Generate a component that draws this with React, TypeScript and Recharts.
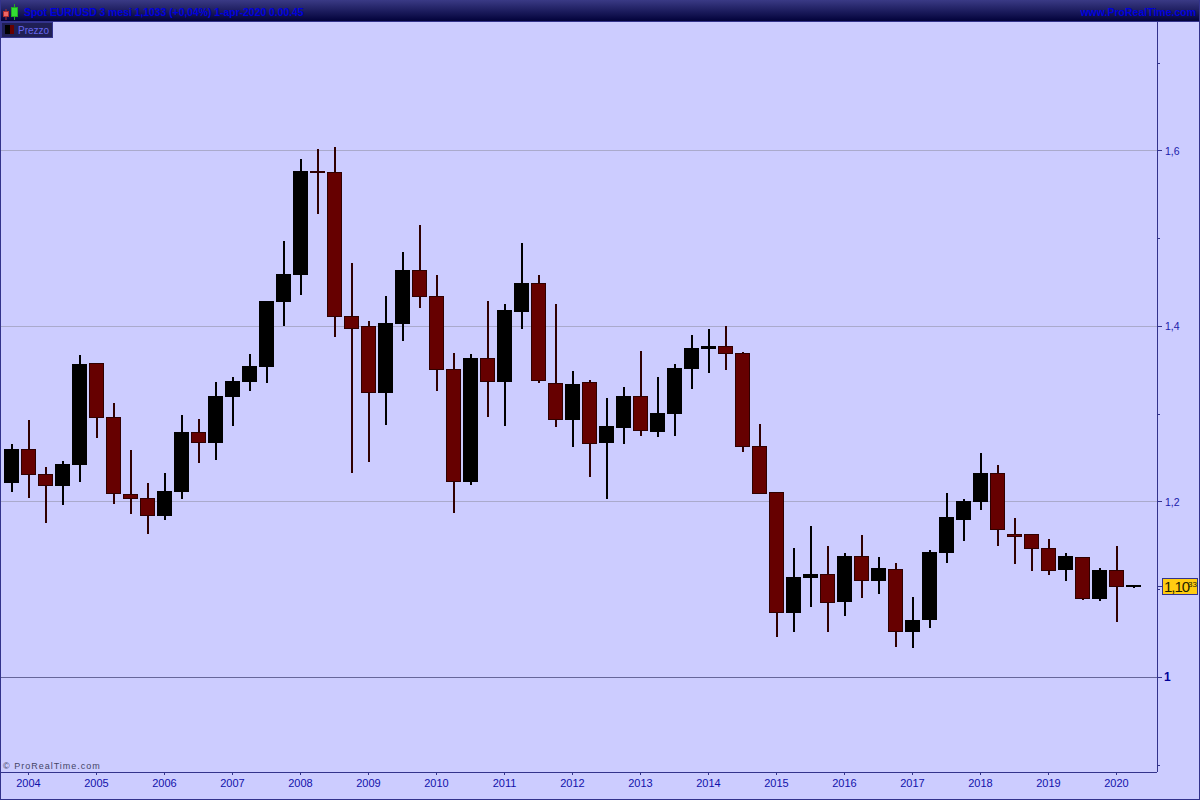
import React from "react";
import { ComposedChart, Bar, XAxis, YAxis, CartesianGrid, ReferenceLine } from "recharts";

const periods = [
  "2003-10",
  "2004-01", "2004-04", "2004-07", "2004-10",
  "2005-01", "2005-04", "2005-07", "2005-10",
  "2006-01", "2006-04", "2006-07", "2006-10",
  "2007-01", "2007-04", "2007-07", "2007-10",
  "2008-01", "2008-04", "2008-07", "2008-10",
  "2009-01", "2009-04", "2009-07", "2009-10",
  "2010-01", "2010-04", "2010-07", "2010-10",
  "2011-01", "2011-04", "2011-07", "2011-10",
  "2012-01", "2012-04", "2012-07", "2012-10",
  "2013-01", "2013-04", "2013-07", "2013-10",
  "2014-01", "2014-04", "2014-07", "2014-10",
  "2015-01", "2015-04", "2015-07", "2015-10",
  "2016-01", "2016-04", "2016-07", "2016-10",
  "2017-01", "2017-04", "2017-07", "2017-10",
  "2018-01", "2018-04", "2018-07", "2018-10",
  "2019-01", "2019-04", "2019-07", "2019-10",
  "2020-01", "2020-04",
];

const opens = [
  1.2214, 1.2602, 1.2313, 1.218, 1.2419, 1.3582, 1.2963, 1.2089, 1.204, 1.1838,
  1.2112, 1.2792, 1.267, 1.3194, 1.3365, 1.3536, 1.4277, 1.4585, 1.577, 1.5755,
  1.4117, 1.4, 1.324, 1.4026, 1.4638, 1.4342, 1.3513, 1.2226, 1.3639, 1.3365,
  1.4163, 1.4493, 1.3354, 1.2932, 1.3362, 1.267, 1.2841, 1.3202, 1.2795, 1.3001,
  1.3513, 1.3741, 1.3772, 1.3692, 1.2632, 1.2108, 1.0733, 1.1132, 1.1174, 1.0858,
  1.1379, 1.1097, 1.1231, 1.0516, 1.0653, 1.1417, 1.1793, 1.1998, 1.2325, 1.1633,
  1.163, 1.147, 1.1223, 1.1368, 1.0892, 1.1219, 1.1033,
];

const closes = [
  1.2602, 1.2305, 1.218, 1.2431, 1.357, 1.2955, 1.2089, 1.2032, 1.1838, 1.2123,
  1.2795, 1.267, 1.3206, 1.3377, 1.3548, 1.4288, 1.4596, 1.577, 1.5747, 1.4106,
  1.3969, 1.324, 1.4038, 1.4642, 1.4334, 1.3502, 1.2226, 1.3639, 1.3365, 1.4186,
  1.4493, 1.3377, 1.2932, 1.3342, 1.2659, 1.2864, 1.3206, 1.2807, 1.3012, 1.3525,
  1.3753, 1.3775, 1.3684, 1.2624, 1.2089, 1.0733, 1.1143, 1.1177, 1.0847, 1.1382,
  1.1097, 1.1246, 1.0516, 1.0653, 1.1428, 1.1827, 1.2009, 1.2328, 1.1679, 1.1599,
  1.1462, 1.1211, 1.1382, 1.0892, 1.1223, 1.1029, 1.1052,
];

const highs = [
  1.2659, 1.2932, 1.2397, 1.2465, 1.3673, 1.3582, 1.3126, 1.259, 1.2214, 1.2328,
  1.2989, 1.2944, 1.3365, 1.3422, 1.3684, 1.4288, 1.4972, 1.5907, 1.6021, 1.6043,
  1.4721, 1.406, 1.4345, 1.4847, 1.5154, 1.4585, 1.3696, 1.3684, 1.4288, 1.4254,
  1.4949, 1.4585, 1.4254, 1.3491, 1.3388, 1.3183, 1.3308, 1.3719, 1.3422, 1.357,
  1.3901, 1.3969, 1.4003, 1.3707, 1.2887, 1.2112, 1.1474, 1.1724, 1.1496, 1.1417,
  1.1622, 1.1371, 1.1303, 1.0915, 1.1451, 1.21, 1.2032, 1.2556, 1.2419, 1.1815,
  1.1633, 1.1576, 1.1417, 1.1371, 1.1246, 1.1496, 1.1052,
];

const lows = [
  1.2112, 1.2043, 1.1758, 1.1964, 1.2226, 1.2727, 1.1975, 1.1861, 1.1633, 1.1793,
  1.2032, 1.2442, 1.2476, 1.2864, 1.3263, 1.3354, 1.4003, 1.4357, 1.528, 1.3878,
  1.2328, 1.2454, 1.2875, 1.3832, 1.4209, 1.3263, 1.1872, 1.2191, 1.2966, 1.2864,
  1.3969, 1.3354, 1.2852, 1.2624, 1.2283, 1.2032, 1.2659, 1.275, 1.2738, 1.275,
  1.3286, 1.3468, 1.3502, 1.2568, 1.2089, 1.0459, 1.0516, 1.0801, 1.0516, 1.0699,
  1.0904, 1.0949, 1.0345, 1.0334, 1.0562, 1.1303, 1.1553, 1.1907, 1.1496, 1.1291,
  1.1211, 1.1166, 1.1097, 1.0881, 1.087, 1.063, 1.1018,
];

const yearTicks = [
  "2004-01", "2005-01", "2006-01", "2007-01", "2008-01", "2009-01",
  "2010-01", "2011-01", "2012-01", "2013-01", "2014-01", "2015-01",
  "2016-01", "2017-01", "2018-01", "2019-01", "2020-01",
];
const priceTicks = [0.9, 1, 1.1, 1.2, 1.3, 1.4, 1.5, 1.6, 1.7];
const labelledTicks = [1, 1.2, 1.4, 1.6];
const gridPrices = [1.2, 1.4, 1.6];

const data = periods.map((period, i) => ({
  period,
  open: opens[i],
  close: closes[i],
  wick: [lows[i], highs[i]],
  body: [Math.min(opens[i], closes[i]), Math.max(opens[i], closes[i])],
}));

const NAVY = "#33338c";
const UP = "#000000";
const DOWN = "#660000";
const DOWN_DARK = "#300000";

const Wick = (props: any) => {
  const { x, y, width, height, payload } = props;
  return (
    <rect
      x={Math.floor(x)}
      y={Math.round(y)}
      width={width}
      height={Math.round(height)}
      fill={payload.close >= payload.open ? UP : DOWN_DARK}
    />
  );
};

const Body = (props: any) => {
  const { x, y, width, height, payload } = props;
  const up = payload.close >= payload.open;
  const top = Math.round(y);
  const h = Math.max(Math.round(height), 2);
  return (
    <rect
      x={x + 0.5}
      y={top + 0.5}
      width={width - 1}
      height={h - 1}
      fill={up ? UP : DOWN}
      stroke={up ? UP : DOWN_DARK}
      strokeWidth={1}
    />
  );
};

const PriceTick = (props: any) => {
  const { x, y, payload } = props;
  const labelled = labelledTicks.includes(payload.value);
  const isOne = payload.value === 1;
  const axisX = x - 8;
  return (
    <g>
      <line x1={axisX} x2={axisX + (labelled ? 5 : 3)} y1={y} y2={y} stroke={NAVY} shapeRendering="crispEdges" />
      {labelled && (
        <text
          x={axisX + (isOne ? 7 : 8)}
          y={y + 4}
          fontSize={isOne ? 12 : 10.5}
          fontWeight={isOne ? 700 : 400}
          fontFamily="Liberation Sans"
          fill={isOne ? "#000099" : "#1a1aaa"}
        >
          {String(payload.value).replace(".", ",")}
        </text>
      )}
    </g>
  );
};

const App = () => {
  return (
    <div style={{ position: "absolute", left: 0, top: 0, width: 1200, height: 800, background: "#ccccff", overflow: "hidden" }}>
      <ComposedChart
        width={1200}
        height={800}
        data={data}
        margin={{ top: 22, right: 0, bottom: 0, left: 1 }}
      >
        <CartesianGrid horizontal vertical={false} horizontalValues={gridPrices} stroke="#aaaacc" shapeRendering="crispEdges" />
        <ReferenceLine y={1} stroke="#66669a" shapeRendering="crispEdges" />
        <XAxis
          xAxisId="wick"
          dataKey="period"
          height={28}
          interval={0}
          ticks={yearTicks}
          padding={{ left: 2, right: 15 }}
          tickFormatter={(v: string) => v.slice(0, 4)}
          axisLine={{ stroke: NAVY, shapeRendering: "crispEdges" }}
          tickLine={{ stroke: NAVY, shapeRendering: "crispEdges" }}
          tickSize={3}
          tickMargin={4}
          tick={{ fill: "#1111aa", fontSize: 11, fontFamily: "Liberation Sans" }}
        />
        <XAxis xAxisId="body" dataKey="period" hide height={0} padding={{ left: 2, right: 15 }} />
        <YAxis
          orientation="right"
          width={43}
          type="number"
          domain={[0.8921, 1.7468]}
          allowDataOverflow
          ticks={priceTicks}
          interval={0}
          axisLine={{ stroke: NAVY, shapeRendering: "crispEdges" }}
          tickLine={false}
          tick={PriceTick}
        />
        <Bar xAxisId="wick" dataKey="wick" barSize={2} shape={Wick} isAnimationActive={false} />
        <Bar xAxisId="body" dataKey="body" barSize={15} shape={Body} isAnimationActive={false} />
      </ComposedChart>

      {/* header strip */}
      <div
        style={{
          position: "absolute", left: 0, top: 0, width: 1200, height: 22, boxSizing: "border-box",
          background: "linear-gradient(#3a3a85, #02023a)", borderBottom: "1px solid " + NAVY,
          fontFamily: "Liberation Sans", fontWeight: 700, fontSize: 10.5, color: "#0000dd",
        }}
      >
        <svg width={20} height={21} style={{ position: "absolute", left: 2, top: 0 }}>
          <rect x={3.5} y={9} width={1} height={11} fill="#b03030" />
          <rect x={1.5} y={11.5} width={5} height={5} fill="#ee6666" stroke="#b03030" />
          <rect x={12} y={4} width={1} height={16} fill="#22aa22" />
          <rect x={9.5} y={7.5} width={6} height={9} fill="#33dd33" stroke="#22aa22" />
        </svg>
        <span style={{ position: "absolute", left: 24, top: 6, letterSpacing: -0.07, whiteSpace: "nowrap" }}>
          Spot EUR/USD 3 mesi 1,1033 (+0,04%) 1-apr-2020 0.00.45
        </span>
        <span style={{ position: "absolute", right: 4, top: 6, whiteSpace: "nowrap" }}>www.ProRealTime.com</span>
      </div>

      {/* legend tag */}
      <div
        style={{
          position: "absolute", left: 1, top: 22, width: 52, height: 16, boxSizing: "border-box",
          background: "#1f1f55", border: "1px solid " + NAVY,
          fontFamily: "Liberation Sans", fontSize: 10, color: "#6666ee",
        }}
      >
        <span style={{ position: "absolute", left: 3, top: 2, width: 5, height: 9, background: "#000000" }} />
        <span style={{ position: "absolute", left: 8, top: 2, width: 4, height: 9, background: DOWN }} />
        <span style={{ position: "absolute", left: 16, top: 2 }}>Prezzo</span>
      </div>

      {/* watermark */}
      <div
        style={{
          position: "absolute", left: 3, top: 761, fontFamily: "Liberation Sans", fontSize: 9,
          letterSpacing: 1, color: "#444466", whiteSpace: "nowrap",
        }}
      >
        © ProRealTime.com
      </div>

      {/* last price tag */}
      <div style={{ position: "absolute", left: 1157, top: 586, width: 5, height: 1, background: NAVY }} />
      <div
        style={{
          position: "absolute", left: 1162, top: 578, width: 36, height: 17, boxSizing: "border-box",
          background: "#ffcc11", border: "1px solid " + NAVY, fontFamily: "Liberation Sans", color: "#222200",
        }}
      >
        <span style={{ position: "absolute", left: 1, top: -1, fontSize: 15, letterSpacing: -1, whiteSpace: "nowrap" }}>1,10</span>
        <span style={{ position: "absolute", left: 25, top: 1, fontSize: 8, whiteSpace: "nowrap" }}>33</span>
      </div>

      {/* window frame */}
      <div
        style={{
          position: "absolute", left: 0, top: 0, width: 1200, height: 800, boxSizing: "border-box",
          borderLeft: "1px solid " + NAVY, borderRight: "1px solid " + NAVY, borderBottom: "1px solid " + NAVY,
          pointerEvents: "none",
        }}
      />
    </div>
  );
};

export default App;
